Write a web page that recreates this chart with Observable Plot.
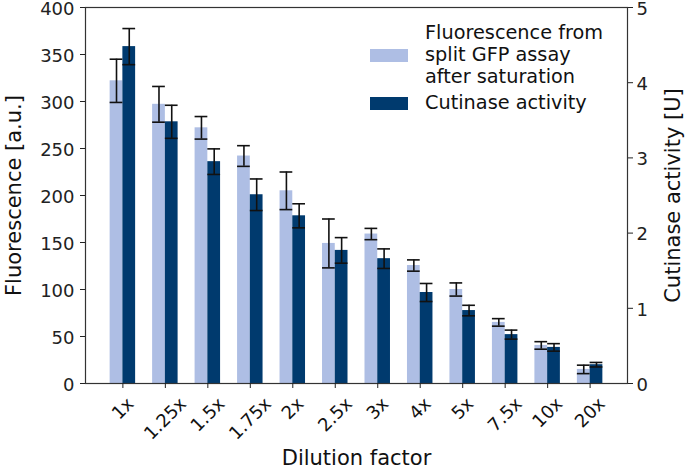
<!DOCTYPE html>
<html>
<head>
<meta charset="utf-8">
<script src="https://cdn.jsdelivr.net/npm/d3@7"></script>
<script src="https://cdn.jsdelivr.net/npm/@observablehq/plot@0.6"></script>
<style>
  body { margin: 0; background: #fff; }
  #wrap { position: relative; width: 685px; height: 470px; font-family: "DejaVu Sans", sans-serif; color: #111; }
  #wrap svg { overflow: visible; }
  .leg { position: absolute; font-size: 19.3px; line-height: 22px; white-space: nowrap; }
  .sw { position: absolute; width: 38px; height: 13px; }
</style>
</head>
<body>
<div id="wrap"></div>
<script>
const labels = ["1x","1.25x","1.5x","1.75x","2x","2.5x","3x","4x","5x","7.5x","10x","20x"];
const fluor = [322, 297, 272, 242, 205, 149, 159, 125.5, 100, 65, 40.5, 15];
const fluorErr = [23, 19, 12, 11, 20, 26, 6, 6, 7, 4, 4, 4.5];
const cut = [4.48, 3.48, 2.95, 2.51, 2.23, 1.77, 1.66, 1.21, 0.97, 0.65, 0.48, 0.25];
const cutErr = [0.24, 0.22, 0.17, 0.21, 0.16, 0.17, 0.13, 0.12, 0.07, 0.06, 0.05, 0.03];
const fluorTicks = [0, 50, 100, 150, 200, 250, 300, 350, 400];
const cutTicks = [0, 1, 2, 3, 4, 5];

const LIGHT = "#aebee4";
const DARK = "#003a6e";
const RATIO = 400 / 5; // right axis 0-5 maps onto left 0-400
const W = 0.3;

const rows = labels.map((l, i) => ({
  i, label: l,
  f: fluor[i], fe: fluorErr[i],
  c: cut[i] * RATIO, ce: cutErr[i] * RATIO
}));

// measure rotated label extent to center rotated bbox under tick (matplotlib style)
const ctx = document.createElement("canvas").getContext("2d");
ctx.font = "18px 'DejaVu Sans'";
const lineH = 18 * 1.16;
const tickLabelMarks = rows.map(r => {
  const w = ctx.measureText(r.label).width;
  const half = (w + lineH) / (2 * Math.SQRT2);
  return Plot.text([r], {
    x: "i", text: "label", frameAnchor: "bottom",
    rotate: -45, textAnchor: "middle", lineAnchor: "middle",
    dy: 10 + half, fontSize: 18, fill: "#111"
  });
});

const noText = () => "";

const chart = Plot.plot({
  width: 685,
  height: 470,
  marginLeft: 85,
  marginRight: 58,
  marginTop: 7,
  marginBottom: 87,
  style: { fontFamily: "DejaVu Sans, sans-serif", fontSize: "18px", color: "#222", background: "#fff", overflow: "visible" },
  x: { type: "linear", domain: [-0.88, 11.88], axis: null },
  y: { domain: [0, 400], axis: null },
  marks: [
    Plot.rectY(rows, { x1: d => d.i - W, x2: d => d.i, y1: 0, y2: "f", fill: LIGHT }),
    Plot.rectY(rows, { x1: d => d.i, x2: d => d.i + W, y1: 0, y2: "c", fill: DARK }),
    // fluorescence error bars
    Plot.ruleX(rows, { x: d => d.i - W / 2, y1: d => d.f - d.fe, y2: d => d.f + d.fe, stroke: "#111", strokeWidth: 1.6 }),
    Plot.ruleY(rows, { y: d => d.f - d.fe, x1: d => d.i - W, x2: d => d.i, stroke: "#111", strokeWidth: 1.6 }),
    Plot.ruleY(rows, { y: d => d.f + d.fe, x1: d => d.i - W, x2: d => d.i, stroke: "#111", strokeWidth: 1.6 }),
    // cutinase error bars
    Plot.ruleX(rows, { x: d => d.i + W / 2, y1: d => d.c - d.ce, y2: d => d.c + d.ce, stroke: "#111", strokeWidth: 1.6 }),
    Plot.ruleY(rows, { y: d => d.c - d.ce, x1: d => d.i, x2: d => d.i + W, stroke: "#111", strokeWidth: 1.6 }),
    Plot.ruleY(rows, { y: d => d.c + d.ce, x1: d => d.i, x2: d => d.i + W, stroke: "#111", strokeWidth: 1.6 }),
    Plot.frame({ stroke: "#333", strokeWidth: 1.2 }),
    Plot.axisY({ ticks: fluorTicks, tickSize: 5, tickFormat: noText, label: null }),
    Plot.axisY({ ticks: fluorTicks, tickSize: 0, tickPadding: 11, label: null, fontSize: 18, dy: 1.5 }),
    Plot.axisY({ anchor: "right", ticks: cutTicks.map(v => v * RATIO), tickSize: 5, tickFormat: noText, label: null }),
    Plot.axisY({ anchor: "right", ticks: cutTicks.map(v => v * RATIO), tickFormat: d => String(d / RATIO), tickSize: 0, tickPadding: 9, label: null, fontSize: 18, dy: 1.5 }),
    Plot.axisX({ ticks: rows.map(r => r.i), tickSize: 5, tickFormat: noText, label: null }),
    ...tickLabelMarks,
    Plot.text(["Fluorescence [a.u.]"], { frameAnchor: "left", dx: -71, rotate: -90, textAnchor: "middle", fontSize: 21, fill: "#111", lineAnchor: "middle" }),
    Plot.text(["Cutinase activity [U]"], { frameAnchor: "right", dx: 46, rotate: -90, textAnchor: "middle", fontSize: 21, fill: "#111", lineAnchor: "middle" }),
    Plot.text(["Dilution factor"], { frameAnchor: "bottom", dy: 75, textAnchor: "middle", fontSize: 21, fill: "#111", lineAnchor: "middle" })
  ]
});

const wrap = document.getElementById("wrap");
wrap.appendChild(chart);

const legend = [
  { color: LIGHT, lines: ["Fluorescence from", "split GFP assay", "after saturation"], top: 22, swTop: 49 },
  { color: DARK, lines: ["Cutinase activity"], top: 92, swTop: 97 }
];
legend.forEach(item => {
  const sw = document.createElement("div");
  sw.className = "sw";
  sw.style.left = "370px";
  sw.style.top = item.swTop + "px";
  sw.style.background = item.color;
  wrap.appendChild(sw);
  const t = document.createElement("div");
  t.className = "leg";
  t.style.left = "425px";
  t.style.top = item.top + "px";
  t.innerHTML = item.lines.join("<br>");
  wrap.appendChild(t);
});
</script>
</body>
</html>
